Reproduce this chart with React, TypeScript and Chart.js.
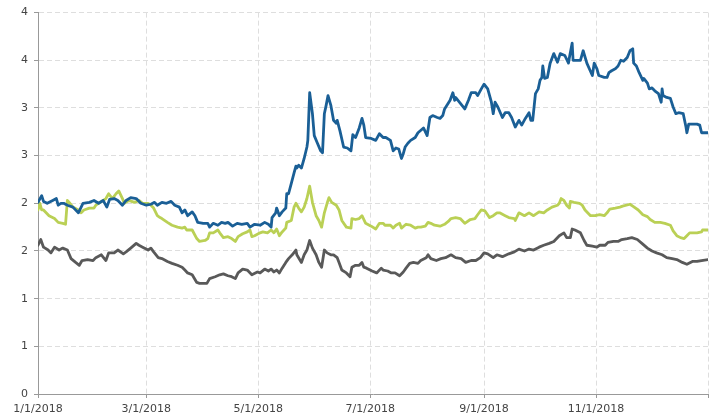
import React, { useEffect, useRef } from "react";
import { Chart, registerables } from "chart.js";

Chart.register(...registerables);

// x values are days since 1/1/2018
const blueDays = [0,2,3,5,8,10,11,12.5,14,16,19,22,24.5,28,30.5,33,35.5,37.5,39,41.5,43.5,46,48,50.5,53.5,56,59,61.5,63.5,65,67.5,70,72.5,74.5,77,78.5,80,81.5,84,85.5,87,90,92.5,93.5,95.5,98,100,102,103.5,106,108.5,111,114,115.5,118,121,123.5,125.5,127,127.5,129.5,130,131.5,133,135,135.5,136.5,138,139.5,140.5,141,142,143.5,145,146.5,147,148,149.5,150.5,152,154,155,156,157,158,159.5,161,162.5,163,164.5,166.5,168.5,170.5,171.5,173,175,176.5,177.5,178.5,181.5,184,186,188,189.5,192,193.5,195,196.5,198,199,200,201.5,203,205.5,207,210,212,213.5,215,217.5,219,220.5,221.5,224.5,226,227,227.5,230,232.5,234.5,236,238.5,239.5,241.5,243,245,247,248,249,250.5,253,254.5,256.5,258,260,262,263.5,265.5,267.5,268.5,269.5,271,272.5,273.5,274.5,275,276,277.5,279,281,283,284.5,287,289,289.5,291,291.5,293.5,295.5,297,299,302,303,304.5,305.5,308.5,310,311,312.5,314.5,316,317.5,319,321,322.5,324,324.5,326,327.5,329.5,330,332,333,334.5,336,338,339.5,340,340.5,342.5,344.5,346,347.5,349,351.5,353,353.5,354.5,359,360.5,361.5,365];
const blueValues = [2.01,2.08,2.02,2.0,2.03,2.05,1.98,2.0,2.0,1.98,1.96,1.9,2.0,2.01,2.03,2.0,2.03,1.96,2.04,2.05,2.03,1.98,2.03,2.06,2.05,2.0,1.98,1.99,2.01,1.98,2.01,2.0,2.02,1.98,1.96,1.9,1.93,1.87,1.91,1.87,1.8,1.79,1.79,1.75,1.79,1.77,1.8,1.79,1.8,1.76,1.79,1.78,1.79,1.75,1.78,1.77,1.8,1.78,1.75,1.85,1.9,1.95,1.87,1.91,1.95,2.1,2.1,2.21,2.32,2.39,2.37,2.4,2.37,2.47,2.59,2.66,3.16,2.94,2.71,2.64,2.55,2.53,2.94,3.03,3.13,3.03,2.87,2.84,2.87,2.76,2.59,2.58,2.55,2.72,2.69,2.79,2.89,2.82,2.69,2.68,2.66,2.73,2.69,2.69,2.66,2.55,2.58,2.57,2.47,2.52,2.59,2.63,2.66,2.69,2.74,2.79,2.71,2.9,2.92,2.9,2.89,2.92,2.99,3.08,3.16,3.08,3.11,3.05,2.99,3.08,3.16,3.16,3.13,3.2,3.25,3.2,3.06,2.94,3.06,3.01,2.9,2.95,2.95,2.9,2.8,2.87,2.82,2.89,2.95,2.87,2.87,3.15,3.2,3.29,3.32,3.44,3.31,3.32,3.47,3.57,3.48,3.57,3.55,3.47,3.53,3.68,3.5,3.5,3.5,3.6,3.47,3.34,3.47,3.41,3.34,3.32,3.32,3.37,3.39,3.41,3.44,3.5,3.49,3.53,3.6,3.62,3.47,3.44,3.37,3.29,3.31,3.26,3.2,3.21,3.18,3.15,3.06,3.2,3.13,3.11,3.1,3.01,2.94,2.95,2.94,2.8,2.74,2.83,2.83,2.82,2.74,2.74];

const greenDays = [0,1,2,3,6,9,11,13.5,15,16,17,19,22,23.5,25,28,30.5,31.5,33,35.5,37,38.5,40.5,42.5,44,46,47,49.5,52.5,55,57,60,61.5,63,65,66.5,67.5,70.5,73,76,78.5,80,81,84,86.5,88,91,92.5,93.5,95.5,98,99,101,103.5,105.5,107.5,109,111.5,114,115.5,116.5,118,121,122.5,125,127,128.5,130,131.5,133,135,135.5,138,139.5,140.5,142,143.5,145,146.5,148,149.5,151.5,153,154.5,156,157.5,158.5,160,162.5,164,165.5,168,170.5,171,173,175,176.5,178.5,181.5,184,186,188,189,192,193.5,195,197,198,200.5,203,205.5,207,208.5,211,212.5,214,216,219,221.5,223.5,225,227.5,230,232.5,235.5,238,239.5,241.5,243.5,246,248,250,251.5,254.5,256.5,259.5,260,262,265,267.5,270,273,275.5,277.5,280,283,284,285,286.5,288,289.5,290,292,295,296.5,298,301,303.5,306,308.5,310,311.5,314.5,317,318.5,322.5,324,327,329.5,332,333.5,336,339,341.5,344.5,346,348,350,352,353.5,355,359,361.5,362,365];
const greenValues = [1.93,2.0,1.93,1.93,1.87,1.84,1.8,1.79,1.78,2.03,2.01,1.96,1.93,1.9,1.93,1.95,1.95,1.98,2.0,2.03,2.05,2.1,2.05,2.1,2.13,2.05,2.0,2.03,2.01,2.03,2.0,2.0,1.98,1.95,1.87,1.85,1.84,1.8,1.77,1.75,1.74,1.75,1.72,1.72,1.63,1.6,1.61,1.63,1.69,1.69,1.72,1.69,1.64,1.65,1.63,1.6,1.65,1.68,1.7,1.72,1.65,1.66,1.69,1.7,1.69,1.72,1.69,1.73,1.66,1.7,1.74,1.8,1.82,1.96,2.0,1.95,1.91,1.96,2.05,2.18,2.01,1.87,1.82,1.75,1.9,2.0,2.06,2.01,1.98,1.93,1.82,1.75,1.74,1.84,1.83,1.84,1.87,1.79,1.76,1.73,1.79,1.79,1.77,1.77,1.74,1.77,1.79,1.74,1.78,1.77,1.74,1.75,1.75,1.76,1.8,1.79,1.77,1.76,1.78,1.81,1.84,1.85,1.84,1.79,1.83,1.84,1.88,1.93,1.92,1.85,1.87,1.9,1.9,1.87,1.85,1.84,1.82,1.9,1.87,1.9,1.87,1.91,1.9,1.93,1.96,1.98,2.0,2.05,2.03,1.98,1.95,2.02,2.01,2.0,1.98,1.93,1.87,1.87,1.88,1.87,1.9,1.94,1.95,1.96,1.97,1.99,1.97,1.93,1.88,1.86,1.83,1.8,1.8,1.79,1.77,1.71,1.66,1.64,1.63,1.66,1.69,1.69,1.7,1.72,1.72];

const grayDays = [0,1.5,3,5.5,7,9,11.5,13.5,16,18,20.5,22.5,24,27,30,31.5,34.5,37,38.5,41.5,43.5,46.5,48,50.5,53.5,55,57,60,61.5,63,65.5,67.5,70.5,73,76,78.5,80,81.5,84,86.5,88,92,93.5,96.5,99,101,103.5,105.5,107.5,109,111.5,114,116.5,119.5,121,123.5,125.5,127,128.5,130,131.5,133,135,136.5,138.5,140.5,141,143.5,145,146.5,148,149.5,151.5,153,154.5,156,157.5,159.5,161,163,164,165.5,168,170,171,173,175,176.5,177.5,179,182,184.5,187,188,190.5,192.5,194.5,197,199,200.5,202.5,204.5,207,208.5,211.5,212.5,214,217,219.5,222,225,227.5,230.5,233,236,238.5,241,243,245,248,250,253,256.5,259.5,262,265,267.5,270,273,275.5,278.5,281,284,286.5,288,290,291,292.5,295.5,297.5,299,302,304.5,306,309,310.5,313.5,316,318,321,323.5,326.5,329,332,334.5,337,340,342.5,345.5,348,351,353.5,356.5,359,361.5,365];
const grayValues = [1.56,1.62,1.54,1.51,1.48,1.54,1.51,1.53,1.51,1.42,1.38,1.35,1.4,1.41,1.4,1.43,1.46,1.4,1.48,1.48,1.51,1.47,1.49,1.53,1.58,1.56,1.54,1.51,1.53,1.49,1.43,1.42,1.39,1.37,1.35,1.33,1.3,1.27,1.25,1.17,1.16,1.16,1.21,1.23,1.25,1.26,1.24,1.23,1.21,1.27,1.31,1.3,1.25,1.28,1.27,1.31,1.29,1.31,1.28,1.3,1.27,1.32,1.38,1.42,1.46,1.51,1.46,1.38,1.46,1.51,1.61,1.53,1.46,1.38,1.33,1.51,1.48,1.46,1.46,1.43,1.38,1.3,1.27,1.23,1.33,1.35,1.35,1.38,1.33,1.32,1.29,1.27,1.32,1.3,1.29,1.27,1.27,1.24,1.28,1.32,1.37,1.38,1.37,1.4,1.43,1.46,1.42,1.4,1.42,1.43,1.46,1.43,1.42,1.38,1.4,1.4,1.43,1.48,1.47,1.43,1.46,1.44,1.47,1.49,1.52,1.5,1.52,1.51,1.54,1.56,1.58,1.6,1.66,1.69,1.64,1.64,1.73,1.72,1.69,1.61,1.56,1.55,1.54,1.56,1.56,1.59,1.6,1.6,1.62,1.63,1.64,1.62,1.58,1.53,1.5,1.48,1.46,1.43,1.42,1.41,1.38,1.36,1.39,1.39,1.4,1.41];

const xTickDays = [0, 59, 120, 181, 243, 304, 365];
const xTickLabels = ["1/1/2018", "3/1/2018", "5/1/2018", "7/1/2018", "9/1/2018", "11/1/2018", ""];

const toPoints = (xs: number[], ys: number[]) => xs.map((x, i) => ({ x, y: ys[i] }));

export default function App() {
  const ref = useRef<HTMLCanvasElement | null>(null);
  useEffect(() => {
    if (!ref.current) return;
    const font = { family: "'DejaVu Sans', Verdana, sans-serif", size: 11 };
    const line = { borderWidth: 2.8, pointRadius: 0, tension: 0, borderJoinStyle: "round" as const, borderCapStyle: "round" as const };
    const chart = new Chart(ref.current, {
      type: "line",
      data: {
        datasets: [
          { data: toPoints(blueDays, blueValues), borderColor: "#1a5f96", ...line },
          { data: toPoints(greenDays, greenValues), borderColor: "#bad055", ...line },
          { data: toPoints(grayDays, grayValues), borderColor: "#595959", ...line },
        ],
      },
      options: {
        animation: false,
        responsive: true,
        maintainAspectRatio: false,
        layout: { padding: { left: 0, right: 8, top: 12, bottom: 0 } },
        plugins: { legend: { display: false }, tooltip: { enabled: false } },
        scales: {
          x: {
            type: "linear",
            min: 0,
            max: 365,
            afterBuildTicks: (s: any) => { s.ticks = xTickDays.map((v) => ({ value: v })); },
            afterFit: (s: any) => { s.height = 24; },
            ticks: {
              autoSkip: false,
              maxRotation: 0,
              padding: 5,
              color: "#444",
              font,
              callback: (v: any) => { const i = xTickDays.indexOf(Number(v)); return i >= 0 ? xTickLabels[i] : ""; },
            },
            grid: { color: "#dedede", tickLength: 4, tickColor: "#999", drawTicks: true },
            border: { display: true, color: "#999", width: 1, dash: [5, 3] },
          },
          y: {
            min: 0,
            max: 4,
            afterFit: (s: any) => { s.width = 38; },
            ticks: {
              stepSize: 0.5,
              padding: 6,
              color: "#444",
              font,
              callback: (v: any) => String(Math.round(Number(v))),
            },
            grid: { color: "#dedede", tickLength: 4, tickColor: "#999", drawTicks: true },
            border: { display: true, color: "#999", width: 1, dash: [5, 3] },
          },
        },
      },
    });
    return () => chart.destroy();
  }, []);
  return (
    <div style={{ position: "fixed", left: 0, top: 0, width: 716, height: 418, background: "#fff" }}>
      <canvas ref={ref} />
    </div>
  );
}
